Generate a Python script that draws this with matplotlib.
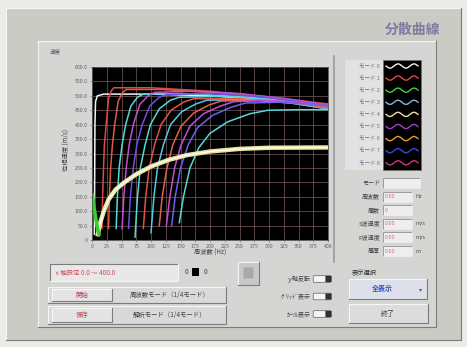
import matplotlib.pyplot as plt
from matplotlib.patches import Rectangle, FancyBboxPatch

plt.rcParams['font.family'] = ['Noto Sans CJK JP', 'DejaVu Sans']

W, H = 467, 347

# axis ticks
x_ticks = list(range(0, 401, 25))
y_ticks = list(range(0, 601, 50))

# dispersion curves, (frequency, phase velocity)
mode0 = [(4, 20), (4.5, 200), (5, 400), (6, 480), (9, 500), (20, 506), (100, 506), (200, 500), (300, 486), (400, 462)]
mode1 = [(17, 40), (18, 150), (19.5, 250), (21, 330), (24, 400), (28, 490), (33, 518), (37, 528), (100, 528), (200, 516), (300, 496), (400, 472)]
mode2 = [(28, 40), (29.5, 150), (31.6, 250), (34.6, 330), (38.5, 400), (44.5, 482), (52, 512), (58, 522), (120, 522), (200, 512), (300, 494), (400, 468)]
mode3 = [(41, 40), (43, 150), (46, 250), (51, 330), (57, 400), (66, 465), (77, 495), (86, 505), (150, 508), (250, 498), (330, 482), (400, 462)]
mode4 = [(51, 40), (54, 150), (58, 250), (63, 330), (70, 400), (81, 470), (95, 500), (106, 512), (170, 516), (250, 508), (330, 490), (400, 468)]
mode5 = [(62, 40), (65, 150), (70, 250), (76, 330), (85, 400), (98, 465), (114, 495), (127, 505), (200, 508), (280, 498), (350, 480), (400, 465)]
mode6 = [(73, 10), (77, 150), (82, 250), (90, 330), (99, 400), (114, 455), (133, 485), (148, 495), (220, 498), (300, 488), (400, 455)]
mode7 = [(87, 40), (91, 150), (97, 250), (106, 330), (117, 400), (134, 450), (155, 478), (172, 490), (250, 490), (330, 478), (400, 458)]
mode8 = [(100, 25), (105, 150), (111, 250), (121, 330), (133, 400), (152, 445), (176, 472), (195, 485), (270, 486), (340, 474), (400, 455)]
mode9 = [(114, 50), (119, 150), (127, 250), (137, 330), (151, 395), (172, 440), (198, 468), (219, 482), (290, 485), (350, 474), (400, 458)]
mode10 = [(126, 50), (132, 150), (140, 250), (151, 330), (166, 395), (189, 438), (218, 465), (241, 480), (300, 484), (360, 476), (400, 464)]
mode11 = [(135, 50), (141, 150), (150, 250), (163, 330), (179, 390), (204, 432), (235, 460), (260, 475), (320, 478), (400, 466)]
mode12 = [(148, 60), (155, 150), (166, 250), (181, 320), (200, 370), (230, 410), (268, 438), (298, 450), (350, 452), (400, 452)]
fund = [(10, 20), (14, 60), (20, 100), (28, 140), (40, 175), (55, 200), (75, 228), (100, 255),
        (130, 278), (160, 294), (200, 307), (250, 316), (300, 320), (400, 321)]
green_tail = [(1, 155), (3, 120), (6, 80), (9, 45), (12, 20)]

modes = [mode0, mode1, mode2, mode3, mode4, mode5, mode6, mode7, mode8, mode9, mode10, mode11, mode12]
mode_colors = ['#f4f4f4', '#e04848', '#e05a40', '#58d8d8', '#c050d0', '#6a50e8', '#58d8d8',
               '#e05050', '#58c8e0', '#e06050', '#c050d0', '#7060f0', '#58d8d8']

legend_names = ['モード 0', 'モード 1', 'モード 2', 'モード 3', 'モード 4',
                'モード 5', 'モード 6', 'モード 7', 'モード 8']
legend_colors = ['#f0f0f0', '#e04848', '#40d040', '#80b8e8', '#e8e0a0',
                 '#a040c8', '#e0a030', '#4048d8', '#c83878']
wave = [0, 0.7, 1, 0.7, 0, -0.7, -1, -0.7, 0, 0.7, 1, 0.7, 0, -0.7, -1, -0.7, 0]

param_labels = ['モード', '周波数', '層数', 'S波速度', 'P波速度', '層厚']
param_values = ['', '0.00', '0', '0.00', '0.00', '0.00']
param_units = ['', 'Hz', '', 'm/s', 'm/s', 'm']

switch_labels = ['ｙ軸反転', 'ｸﾞﾘｯﾄﾞ表示', 'ｶｰｿﾙ表示']

fig = plt.figure(figsize=(W / 100, H / 100), dpi=100)
bg = fig.add_axes([0, 0, 1, 1])
bg.set_xlim(0, W)
bg.set_ylim(H, 0)
bg.axis('off')


def bevel(x0, y0, x1, y1, face, sunk=False, lw=0.8):
    bg.add_patch(Rectangle((x0, y0), x1 - x0, y1 - y0, facecolor=face, edgecolor='none'))
    hi, lo = ('#7c7c7c', '#f6f6f6') if sunk else ('#f6f6f6', '#7c7c7c')
    bg.plot([x0, x0, x1], [y1, y0, y0], color=hi, lw=lw)
    bg.plot([x0, x1, x1], [y1, y1, y0], color=lo, lw=lw)


# window
bg.add_patch(Rectangle((0, 0), W, H, facecolor='#ecece6', edgecolor='none'))
bevel(6, 8, 461, 340, '#cbcbc6')
bg.text(440, 30, '分散曲線', fontsize=10, color='#7c7ca0', ha='right', va='center', fontweight='bold')
bevel(38, 41, 436, 327, '#d5d5d3')

# chart
ax = fig.add_axes([92 / W, 1 - 240 / H, 236 / W, 173 / H])
ax.set_facecolor('black')
for m, c in zip(modes, mode_colors):
    ax.plot([p[0] for p in m], [p[1] for p in m], color=c, lw=1.1)
ax.plot([p[0] for p in fund], [p[1] for p in fund], color='#e8e4a0', lw=3.2)
ax.plot([p[0] for p in fund], [p[1] for p in fund], color='#ffffff', lw=0.9)
ax.plot([p[0] for p in green_tail], [p[1] for p in green_tail], color='#30d030', lw=2.5)
ax.set_xlim(0, 400)
ax.set_ylim(0, 600)
ax.set_xticks(x_ticks)
ax.set_yticks(y_ticks)
ax.set_yticklabels([('%.1f' % v) if v else '0' for v in y_ticks])
ax.grid(True, color='#7a5c5c', lw=0.5)
ax.tick_params(labelsize=3.8, colors='#606060', length=1.5, width=0.4, pad=1.5)
for s in ax.spines.values():
    s.set_color('#505050')
    s.set_linewidth(0.6)
bg.text(66, 150, '位相速度 (m/s)', fontsize=4.5, color='#404040', rotation=90, ha='center', va='center')
bg.text(210, 253, '周波数 (Hz)', fontsize=4.5, color='#404040', ha='center', va='center')
bg.text(50, 52, '速度', fontsize=4, color='#606060', ha='left', va='center')

# legend
bg.plot([334, 334], [56, 262], color='#9a9a9a', lw=1.2)
bg.add_patch(Rectangle((345, 60), 38, 110, facecolor='#e2e2e2', edgecolor='none'))
bg.add_patch(Rectangle((383, 60), 38, 110, facecolor='black', edgecolor='#707070', lw=0.6))
for i, (name, c) in enumerate(zip(legend_names, legend_colors)):
    yc = 66 + i * 12.1
    bg.text(380, yc, name, fontsize=4, color='#707088', ha='right', va='center')
    bg.plot([386 + k * 2 for k in range(len(wave))], [yc + 2.2 * w for w in wave], color=c, lw=1.0)

# parameter fields
for i, (lab, val, unit) in enumerate(zip(param_labels, param_values, param_units)):
    yc = 183 + i * 13.6
    bg.text(380, yc, lab, fontsize=4.3, color='#404040', ha='right', va='center')
    wbox = 37 if i == 0 else 29
    bevel(383, yc - 5, 383 + wbox, yc + 5, '#eeeeee', sunk=True, lw=0.5)
    bg.text(385, yc, val, fontsize=4, color='#d07080', ha='left', va='center')
    bg.text(416, yc, unit, fontsize=4, color='#505050', ha='left', va='center')

# bottom controls
bevel(50, 264, 178, 281, '#e8e8e8', sunk=True)
bg.text(54, 272.5, 'ｘ軸設定 0.0 ～ 400.0', fontsize=4.6, color='#d05060', ha='left', va='center')
bg.text(186, 272.5, '0', fontsize=4.6, color='#404040', ha='center', va='center')
bg.add_patch(Rectangle((192, 268), 7, 8, facecolor='black', edgecolor='none'))
bg.text(205, 272.5, '0', fontsize=4.6, color='#404040', ha='center', va='center')
bevel(238, 262, 259, 285, '#c8c8c8')
bg.add_patch(FancyBboxPatch((244, 268), 9, 10, boxstyle='round,pad=0.5', facecolor='#a8a8a8', edgecolor='none'))

bevel(48, 287, 226, 303, '#d9d9d9')
bevel(52, 289, 112, 301, '#e4e4e4')
bg.text(82, 295, '開始', fontsize=4.6, color='#c04050', ha='center', va='center')
bg.text(170, 295, '周波数モード（1/4モード）', fontsize=4.6, color='#404040', ha='center', va='center')
bevel(48, 306, 226, 324, '#d9d9d9')
bevel(52, 308, 112, 322, '#e4e4e4')
bg.text(82, 315, '保存', fontsize=4.6, color='#c04050', ha='center', va='center')
bg.text(170, 315, '解析モード（1/4モード）', fontsize=4.6, color='#404040', ha='center', va='center')

for i, lab in enumerate(switch_labels):
    yc = 279 + i * 17.5
    bg.text(311, yc, lab, fontsize=4.3, color='#404040', ha='right', va='center')
    bg.add_patch(FancyBboxPatch((314, yc - 2.5), 16, 5, boxstyle='round,pad=0.8', facecolor='#f4f4f4', edgecolor='#606060', lw=0.5))
    bg.add_patch(FancyBboxPatch((326, yc - 2.5), 5, 5, boxstyle='round,pad=0.6', facecolor='#303030', edgecolor='none'))

bg.text(352, 272, '表示選択', fontsize=4.5, color='#303030', ha='left', va='center')
bevel(349, 279, 427, 299, '#dde0ea')
bg.text(382, 289, '全表示', fontsize=5, color='#3050c0', ha='center', va='center', fontweight='bold')
bg.text(421, 289, '▾', fontsize=4.5, color='#606060', ha='center', va='center')
bevel(349, 304, 428, 323, '#dcdcdc')
bg.text(388, 313.5, '終了', fontsize=5, color='#404040', ha='center', va='center')

fig.savefig('out.png', dpi=100)
